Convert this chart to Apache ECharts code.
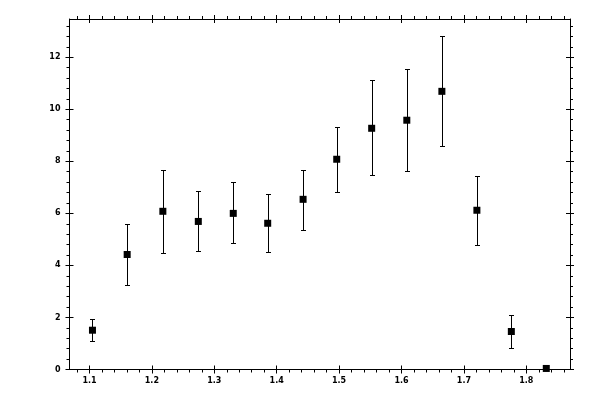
<!DOCTYPE html>
<html><head><meta charset="utf-8">
<script src="https://cdn.jsdelivr.net/npm/echarts@6/dist/echarts.min.js"></script>
<style>html,body{margin:0;padding:0;background:#fff}#c{width:600px;height:400px}</style>
</head><body><div id="c"></div>
<script>
var xValues = [1.1048, 1.1604, 1.2176, 1.2744, 1.3304, 1.3856, 1.4423, 1.4962, 1.5522, 1.6085, 1.6647, 1.7208, 1.776, 1.832];
var yValues = [1.51, 4.42, 6.08, 5.69, 6.00, 5.62, 6.54, 8.08, 9.27, 9.58, 10.69, 6.12, 1.46, 0.04];
var yUpper  = [1.93, 5.58, 7.65, 6.85, 7.19, 6.73, 7.68, 9.31, 11.12, 11.54, 12.81, 7.42, 2.08, 0.04];
var yLower  = [1.08, 3.23, 4.46, 4.54, 4.85, 4.50, 5.38, 6.81, 7.46, 7.62, 8.58, 4.78, 0.82, 0.04];
var xTicks = [1.1, 1.2, 1.3, 1.4, 1.5, 1.6, 1.7, 1.8];
var yTicks = [0, 2, 4, 6, 8, 10, 12];
var xRange = [1.068, 1.870];
var yRange = [0, 13.47];

function minorTicks(major, step, lo, hi) {
  var out = [];
  var start = major[0] - step * 5;
  for (var i = 0; ; i++) {
    var v = Math.round((start + i * step) * 10000) / 10000;
    if (v > hi) break;
    if (v < lo) continue;
    var isMajor = major.some(function (m) { return Math.abs(m - v) < 1e-6; });
    if (!isMajor) out.push(v);
  }
  return out;
}
var xMinor = minorTicks(xTicks, 0.02, xRange[0], xRange[1]);
var yMinor = minorTicks(yTicks, 0.4, yRange[0] + 0.01, yRange[1]);

var lineStyle = { color: '#000', width: 1 };
var labelFont = { color: '#000', fontSize: 8, fontWeight: 'bold', fontFamily: 'DejaVu Sans' };

function makeAxes(dim, pos, major, minor, range, showLabel) {
  var base = { type: 'value', min: range[0], max: range[1], position: pos, splitLine: { show: false } };
  var a = Object.assign({}, base, {
    axisLine: { show: true, onZero: false, lineStyle: lineStyle },
    axisTick: { show: true, inside: false, length: 4, customValues: major, lineStyle: lineStyle },
    axisLabel: showLabel ? Object.assign({ show: true, customValues: major, margin: dim === 'x' ? 7 : 9 }, labelFont) : { show: false }
  });
  var b = Object.assign({}, base, {
    axisLine: { show: false, onZero: false },
    axisTick: { show: true, inside: true, length: 4, customValues: major, lineStyle: lineStyle },
    axisLabel: { show: false }
  });
  var c = Object.assign({}, base, {
    axisLine: { show: false, onZero: false },
    axisTick: { show: true, inside: false, length: 3, customValues: minor, lineStyle: lineStyle },
    axisLabel: { show: false }
  });
  return [a, b, c];
}

var xAxes = makeAxes('x', 'bottom', xTicks, xMinor, xRange, true).concat(makeAxes('x', 'top', xTicks, xMinor, xRange, false));
var yAxes = makeAxes('y', 'left', yTicks, yMinor, yRange, true).concat(makeAxes('y', 'right', yTicks, yMinor, yRange, false));

var points = xValues.map(function (x, i) { return [x, yValues[i]]; });
var bars = xValues.map(function (x, i) { return [x, yLower[i], yUpper[i]]; });

var chart = echarts.init(document.getElementById('c'), null, { renderer: 'canvas' });
chart.setOption({
  animation: false,
  backgroundColor: '#fff',
  grid: { left: 69.5, right: 30, top: 19, bottom: 30.5, containLabel: false },
  xAxis: xAxes,
  yAxis: yAxes,
  series: [
    {
      type: 'custom',
      xAxisIndex: 0, yAxisIndex: 0,
      data: bars,
      renderItem: function (params, api) {
        var x = api.value(0);
        var lo = api.coord([x, api.value(1)]);
        var hi = api.coord([x, api.value(2)]);
        if (Math.abs(hi[1] - lo[1]) < 0.5) return null;
        var cx = Math.round(lo[0]) + 0.5;
        var yh = Math.round(hi[1]) + 0.5, yl = Math.round(lo[1]) + 0.5;
        var w = 2.5;
        var st = { stroke: '#000', lineWidth: 1, fill: null };
        return {
          type: 'group',
          children: [
            { type: 'line', shape: { x1: cx, y1: yh, x2: cx, y2: yl }, style: st },
            { type: 'line', shape: { x1: cx - w, y1: yh, x2: cx + w, y2: yh }, style: st },
            { type: 'line', shape: { x1: cx - w, y1: yl, x2: cx + w, y2: yl }, style: st }
          ]
        };
      }
    },
    {
      type: 'scatter',
      xAxisIndex: 0, yAxisIndex: 0,
      symbol: 'rect',
      symbolSize: 7,
      itemStyle: { color: '#000', opacity: 1 },
      data: points,
      z: 3
    }
  ]
});
</script>
</body></html>
